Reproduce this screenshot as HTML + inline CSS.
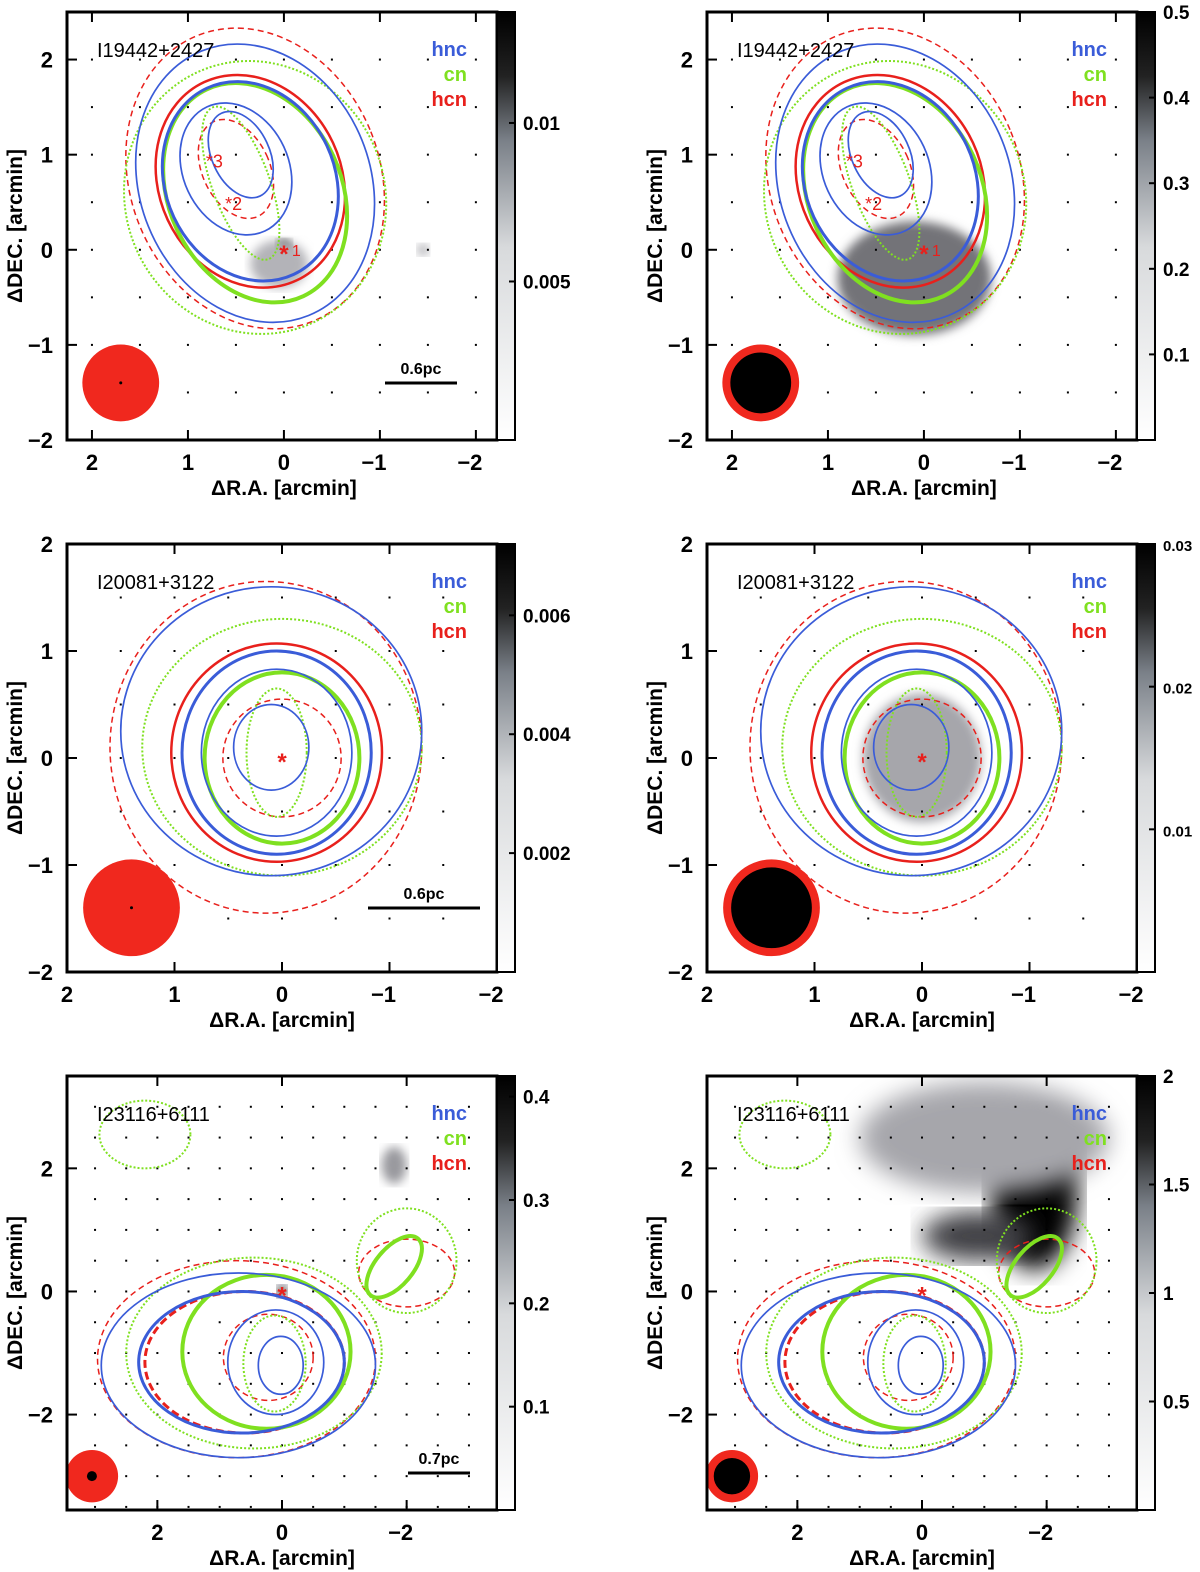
<!DOCTYPE html>
<html><head><meta charset="utf-8"><style>
body{margin:0;background:#fff}
svg{display:block;font-family:"Liberation Sans",sans-serif;font-weight:bold}
</style></head><body>
<svg id="fig" width="1200" height="1572" viewBox="0 0 1200 1572">
<defs>
<linearGradient id="cb" x1="0" y1="1" x2="0" y2="0">
<stop offset="0" stop-color="#fff"/><stop offset="0.45" stop-color="#d8dadc"/><stop offset="0.7" stop-color="#7a8088"/><stop offset="0.85" stop-color="#222"/><stop offset="1" stop-color="#000"/></linearGradient>
<filter id="bl"><feGaussianBlur stdDeviation="5"/></filter>
<filter id="bl2"><feGaussianBlur stdDeviation="12"/></filter>
</defs>
</svg>
<script>
// ---- data (arcmin) ----
const titles=["I19442+2427","I19442+2427","I20081+3122","I20081+3122","I23116+6111","I23116+6111"];
const xTicks=[[2,1,0,-1,-2],[2,1,0,-1,-2],[2,1,0,-1,-2],[2,1,0,-1,-2],[2,0,-2],[2,0,-2]];
const yTicks=[[2,1,0,-1,-2],[2,1,0,-1,-2],[2,1,0,-1,-2],[2,1,0,-1,-2],[2,0,-2],[2,0,-2]];
const cbTicks=[[0.01,0.005],[0.5,0.4,0.3,0.2,0.1],[0.006,0.004,0.002],[0.03,0.02,0.01],[0.4,0.3,0.2,0.1],[2,1.5,1,0.5]];
const cbMax=[0.0135,0.5,0.0072,0.03,0.42,2];
// contour ellipses: [cx, cy, rx, ry, rotationDeg]
const hncRow=[
 [[0.3,0.7,1.2,1.5,-22],[0.35,0.72,0.88,1.08,-25],[0.5,0.85,0.55,0.72,-25],[0.45,1.0,0.3,0.48,-25]],
 [[0.1,0.25,1.4,1.35,0],[0.05,0.05,0.88,0.95,0],[0.05,0.05,0.7,0.78,0],[0.1,0.1,0.35,0.4,0]],
 [[0.7,-1.2,2.2,1.5,0],[0.65,-1.15,1.65,1.15,0],[0.1,-1.15,0.77,0.85,0],[0.02,-1.2,0.36,0.47,0]]];
const cnRow=[
 [[0.3,0.55,1.35,1.45,-25],[0.3,0.6,0.9,1.2,-25],[0.45,0.7,0.3,0.85,-20]],
 [[0.0,0.1,1.3,1.2,0],[0.0,0.0,0.72,0.8,0],[0.05,0.05,0.28,0.6,0]],
 [[0.45,-1.0,2.05,1.55,0],[0.25,-0.98,1.35,1.25,0],[0.12,-1.17,0.5,0.78,0],[-1.8,0.4,0.3,0.6,40],[-2.0,0.5,0.8,0.85,0],[2.2,2.55,0.73,0.55,0]]];
const hcnDash=[
 [[0.3,0.75,1.3,1.62,-22],[0.5,0.85,0.35,0.55,-25]],
 [[0.15,0.1,1.45,1.55,0],[0.0,0.0,0.55,0.55,0]],
 [[0.73,-1.1,2.23,1.6,0],[0.22,-1.07,0.72,0.7,0],[-2.0,0.3,0.77,0.55,0]]];
const hcnSolid=[
 [[0.35,0.72,0.95,1.15,-25]],
 [[0.05,0.05,0.98,1.02,0]],
 [[0.6,-1.15,1.6,1.15,0]]];
// grayscale blobs [x,y,rx,ry,intensity 0..1]
const blobs=[
 [[0,-0.02,0.08,0.12,1],[0.05,-0.15,0.3,0.25,0.3],[-1.45,0.0,0.06,0.06,0.35]],
 [[0.15,-0.15,0.35,0.3,1],[0.1,-0.3,0.8,0.6,0.55]],
 [],
 [[0,0,0.32,0.42,1],[0,0,0.55,0.6,0.35]],
 [[0,0,0.08,0.1,0.9],[-1.8,2.05,0.2,0.3,0.4]],
 [[-1.8,1.6,0.7,1.25,1],[-0.9,0.9,0.9,0.4,0.75],[-1.0,2.5,2.0,0.9,0.35]]];
// panel geometry
const P=[
 {x0:67,x1:497,y0:12,y1:440,xa:2.26,xb:-2.22,ya:2.5,yb:-2,beam:[1.7,-1.4,0.4],bar:[385,457,383,"0.6pc"]},
 {x0:707,x1:1137,y0:12,y1:440,xa:2.26,xb:-2.22,ya:2.5,yb:-2,beam:[1.7,-1.4,0.4]},
 {x0:67,x1:497,y0:544,y1:972,xa:2,xb:-2,ya:2,yb:-2,beam:[1.4,-1.4,0.45],bar:[368,480,908,"0.6pc"]},
 {x0:707,x1:1137,y0:544,y1:972,xa:2,xb:-2,ya:2,yb:-2,beam:[1.4,-1.4,0.45]},
 {x0:67,x1:497,y0:1076,y1:1510,xa:3.45,xb:-3.45,ya:3.5,yb:-3.55,beam:[3.05,-3.0,0.42],bar:[408,470,1473,"0.7pc"]},
 {x0:707,x1:1137,y0:1076,y1:1510,xa:3.45,xb:-3.45,ya:3.5,yb:-3.55,beam:[3.05,-3.0,0.42]}];
const NS="http://www.w3.org/2000/svg",svg=document.getElementById('fig');
function E(t,a,p){const e=document.createElementNS(NS,t);for(const k in a)e.setAttribute(k,a[k]);(p||svg).appendChild(e);return e;}
P.forEach((p,i)=>{
 const g=E('g',{});
 
 
 const sx=v=>p.x0+(v-p.xa)/(p.xb-p.xa)*(p.x1-p.x0);
 const sy=v=>p.y0+(v-p.ya)/(p.yb-p.ya)*(p.y1-p.y0);
 const kx=(p.x1-p.x0)/Math.abs(p.xb-p.xa),ky=(p.y1-p.y0)/Math.abs(p.yb-p.ya);
 const cp=E('clipPath',{id:'c'+i},g);E('rect',{x:p.x0,y:p.y0,width:p.x1-p.x0,height:p.y1-p.y0},cp);
 const inner=E('g',{'clip-path':'url(#c'+i+')'},g);
 blobs[i].forEach(b=>{const c=Math.round(255*(1-b[4]));const e=E('ellipse',{cx:sx(b[0]),cy:sy(b[1]),rx:b[2]*kx,ry:b[3]*ky,fill:`rgb(${c},${c},${c+5})`,filter:(i==5?'url(#bl2)':'url(#bl)')},inner);
  });
 const st=0.5;
 for(let x=Math.ceil(Math.min(p.xa,p.xb)/st)*st;x<=Math.max(p.xa,p.xb);x+=st)for(let y=Math.ceil(Math.min(p.ya,p.yb)/st)*st;y<=Math.max(p.ya,p.yb);y+=st)E('rect',{x:sx(x)-1,y:sy(y)-1,width:2,height:2,fill:'#000'},inner);
 const r=Math.floor(i/2);
 const draw=(arr,col,w,dash,name)=>arr.forEach(c=>{const e=E('ellipse',{cx:sx(c[0]),cy:sy(c[1]),rx:c[2]*kx,ry:c[3]*ky,transform:`rotate(${c[4]} ${sx(c[0])} ${sy(c[1])})`,fill:'none',stroke:col,'stroke-width':w,'stroke-dasharray':dash},inner);
  });
 draw(hcnDash[r],'#e8201c',1.5,'6 4','hcn-contour-dashed');
 draw(hcnSolid[r],'#e8201c',r==2?3:2.5,r==2?'8 4':'none','hcn-contour');
 draw(cnRow[r].slice(0,1),'#7fe020',2,'2 2','cn-contour');
 draw(cnRow[r].slice(1,2),'#7fe020',4,'none','cn-contour-thick');
 draw(cnRow[r].slice(2,3),'#7fe020',2,'2 2','cn-contour');
 if(r==2){draw(cnRow[r].slice(3,4),'#7fe020',4,'none','cn-contour-thick');draw(cnRow[r].slice(4),'#7fe020',2,'2 2','cn-contour');}
 draw(hncRow[r].filter((c,j)=>j!=1),'#3a5cd8',1.7,'none','hnc-contour');
 draw(hncRow[r].slice(1,2),'#3a5cd8',3,'none','hnc-contour-thick');
 const s=E('text',{x:sx(0),y:sy(0)+12,'text-anchor':'middle','font-size':24,fill:'#e8201c'},inner);s.textContent='*';
 
 if(r==0){[[0.75,0.95,'3'],[0.55,0.5,'2']].forEach(m=>{const t=E('text',{x:sx(m[0])-6,y:sy(m[1])+8,'font-size':18,fill:'#e8201c','font-weight':'normal'},inner);t.textContent='*'+m[2];
   });
   const t=E('text',{x:sx(0)+8,y:sy(0)+6,'font-size':16,fill:'#e8201c','font-weight':'normal'},inner);t.textContent='1';}
 const bm=p.beam,br=bm[2]*kx;
 if(i%2==0){E('circle',{cx:sx(bm[0]),cy:sy(bm[1]),r:br,fill:'#f0281e'},inner);E('circle',{cx:sx(bm[0]),cy:sy(bm[1]),r:i==4?5:1.5,fill:'#000'},inner);}
 else{E('circle',{cx:sx(bm[0]),cy:sy(bm[1]),r:br-4,fill:'#000',stroke:'#f0281e','stroke-width':8},inner);}
 if(p.bar){E('line',{x1:p.bar[0],x2:p.bar[1],y1:p.bar[2],y2:p.bar[2],stroke:'#000','stroke-width':3},g);const t=E('text',{x:(p.bar[0]+p.bar[1])/2,y:p.bar[2]-9,'text-anchor':'middle','font-size':16},g);t.textContent=p.bar[3];
  }
 E('rect',{x:p.x0,y:p.y0,width:p.x1-p.x0,height:p.y1-p.y0,fill:'none',stroke:'#000','stroke-width':3},g);
 xTicks[i].forEach(v=>{E('line',{x1:sx(v),x2:sx(v),y1:p.y1,y2:p.y1-10,stroke:'#000','stroke-width':2},g);E('line',{x1:sx(v),x2:sx(v),y1:p.y0,y2:p.y0+10,stroke:'#000','stroke-width':2},g);
  const t=E('text',{x:sx(v)-(v<0?6:0),y:p.y1+30,'text-anchor':'middle','font-size':22},g);t.textContent=v<0?'\u2212'+(-v):v;});
 yTicks[i].forEach(v=>{E('line',{x1:p.x0,x2:p.x0+10,y1:sy(v),y2:sy(v),stroke:'#000','stroke-width':2},g);
  const t=E('text',{x:p.x0-14,y:sy(v)+8,'text-anchor':'end','font-size':22},g);t.textContent=v<0?'\u2212'+(-v):v;});
 let t=E('text',{x:sx(0),y:p.y1+55,'text-anchor':'middle','font-size':21},g);t.textContent='\u0394R.A. [arcmin]';
 
 const yc=(p.y0+p.y1)/2;
 t=E('text',{x:0,y:0,transform:`translate(${p.x0-45},${yc}) rotate(-90)`,'text-anchor':'middle','font-size':21},g);t.textContent='\u0394DEC. [arcmin]';
 
 t=E('text',{x:p.x0+30,y:p.y0+45,'font-size':20,'font-weight':'normal'},g);t.textContent=titles[i];
 
 [['hnc','#3a5cd8'],['cn','#7fe020'],['hcn','#e8201c']].forEach((l,j)=>{const e=E('text',{x:p.x0+400,y:p.y0+44+j*25,'text-anchor':'end','font-size':20,fill:l[1]},g);e.textContent=l[0];
  });
 const cx=p.x1,cw=18;const cb=E('rect',{x:cx,y:p.y0,width:cw,height:p.y1-p.y0,fill:'url(#cb)',stroke:'#000','stroke-width':2},g);
 
 cbTicks[i].forEach(v=>{const y=p.y1-v/cbMax[i]*(p.y1-p.y0);E('line',{x1:cx+cw-6,x2:cx+cw,y1:y,y2:y,stroke:'#000','stroke-width':2},g);
  const e=E('text',{x:cx+cw+8,y:y+7,'font-size':i==3?15:19},g);e.textContent=v;});
});
</script>
</body></html>
